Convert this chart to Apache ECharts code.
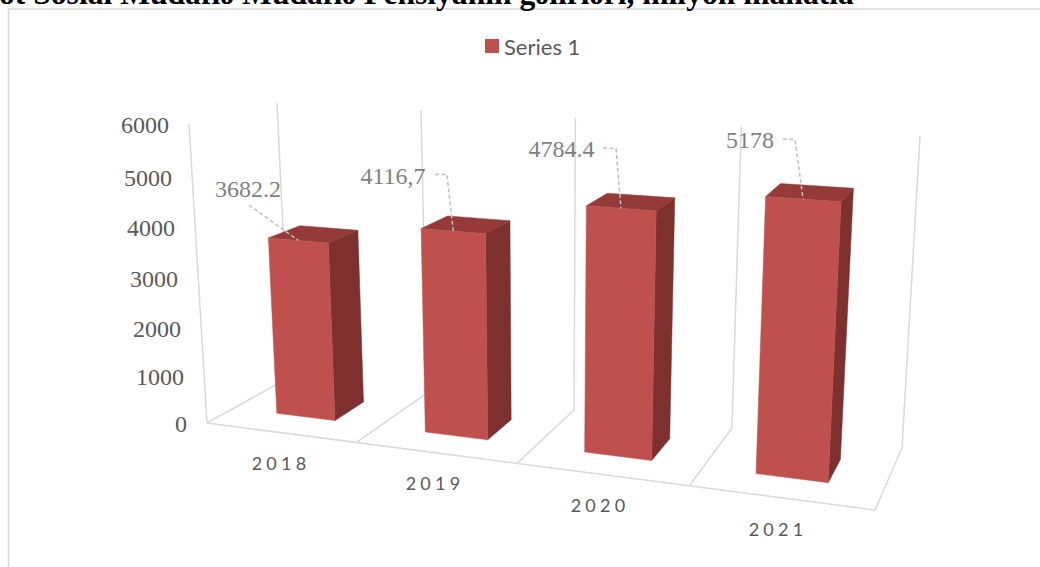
<!DOCTYPE html>
<html><head><meta charset="utf-8">
<style>
html,body{margin:0;padding:0;background:#fff}
#c{width:1040px;height:567px}
#c text[style*="18px Lato"]{letter-spacing:4.2px}
</style>
<script src="https://cdn.jsdelivr.net/npm/echarts@6/dist/echarts.min.js"></script>
</head><body><div id="c"></div>
<script>
var categories=['2018','2019','2020','2021'];
var values=[3682.2,4116.7,4784.4,5178];
var valueLabels=['3682.2','4116,7','4784.4','5178'];
var yTicks=[0,1000,2000,3000,4000,5000,6000];
var seriesName='Series 1';
var titleText='ot Sosial Müdafiə Müdafiə Pensiyanın gəlirləri, milyon manatla';

// --- layout of the projected box (not data) ---
var GRID={left:100,top:100,width:800,height:300};
var groundQ=[[207,423],[875,510],[902,448],[290,377]]; // front-left, front-right, back-right, back-left
var topQ=[[189,124],[893,168],[920,136],[277,103]];
var K=1.07,RU=1.155,RD=1.155;
var BAR={u0:0.30,u1:0.70,d0:0.36,d1:0.74};
var labelLayout=[
 {t:[248,189],line:[[249,205]]},
 {t:[393,176],line:[[435,174.5],[447,174.5]]},
 {t:[561.5,149],line:[[603,148],[616,148.5]]},
 {t:[750,140],line:[[783,139],[795,139.5]]}
];
var yLabelRight=[187,184,181,178,175,172,169];
var yLabelY=[424,377,329,279,228,178,125];
var xLabelPos=[[281,463],[435,483],[600,505],[778,529]];

function bil(q,a,b){
 var x=(1-a)*(1-b)*q[0][0]+a*(1-b)*q[1][0]+a*b*q[2][0]+(1-a)*b*q[3][0];
 var y=(1-a)*(1-b)*q[0][1]+a*(1-b)*q[1][1]+a*b*q[2][1]+(1-a)*b*q[3][1];
 return [x,y];
}
function persp(x,r){return x/(x+r*(1-x));}
// u: 0..1 along category axis, d: 0..1 depth, t: 0..1 value fraction
function proj(u,d,t){
 var a=persp(u,RU),b=persp(d,RD);
 var G=bil(groundQ,a,b),T=bil(topQ,a,b),s=persp(t,K);
 return [G[0]+(T[0]-G[0])*s,G[1]+(T[1]-G[1])*s];
}
function fracs(api,i,v){
 var p=api.coord([i,v]);
 return {u:(p[0]-GRID.left)/GRID.width,t:(GRID.top+GRID.height-p[1])/GRID.height};
}
function poly(pts,fill){return {type:'polygon',shape:{points:pts},style:{fill:fill,stroke:fill,lineWidth:0.5}};}
var LINE='#d9d9d9';
function seg(pts,w,dash,col){return {type:'polyline',shape:{points:pts},style:{fill:null,stroke:col||LINE,lineWidth:w||1.5,lineDash:dash||null}};}

function renderBar(params,api){
 var i=api.value(0),v=api.value(1);
 var f=fracs(api,i,v),band=api.size([1,0])[0]/GRID.width;
 var left=f.u-band/2;
 var u0=left+BAR.u0*band,u1=left+BAR.u1*band,d0=BAR.d0,d1=BAR.d1,t=f.t;
 var a=proj(u0,d0,0),b=proj(u1,d0,0),c=proj(u1,d1,0);
 var A=proj(u0,d0,t),B=proj(u1,d0,t),C=proj(u1,d1,t),D=proj(u0,d1,t);
 return {type:'group',children:[
  poly([b,c,C,B],'#7d302e'),
  poly([A,B,C,D],'#943a38'),
  poly([a,b,B,A],'#c0504d')
 ]};
}
function renderFrame(params,api){
 var ch=[];
 var n=categories.length;
 ch.push(seg([[8.5,567],[8.5,9],[1040,9]],1.5,null,'#d9d9d9'));
 ch.push(seg([proj(0,0,0),proj(0,0,1)]));
 ch.push(seg([proj(0,0,0),proj(1,0,0)]));
 for(var i=0;i<=n;i++){
  var u=i/n;
  ch.push(seg([proj(u,0,0),proj(u,1,0),proj(u,1,1)]));
 }
 yTicks.forEach(function(tv,k){
  ch.push({type:'text',style:{text:String(tv),x:yLabelRight[k],y:yLabelY[k],align:'right',verticalAlign:'middle',font:'24px "Liberation Serif"',fill:'#595959'}});
 });
 categories.forEach(function(c,k){
  ch.push({type:'text',style:{text:c,x:xLabelPos[k][0],y:xLabelPos[k][1],align:'center',verticalAlign:'middle',font:'18px Lato',fill:'#595959'}});
 });
 ch.push({type:'text',style:{text:titleText,x:-1,y:-7,align:'left',verticalAlign:'middle',font:'bold 31.6px "Liberation Serif"',fill:'#000'}});
 return {type:'group',children:ch};
}
function renderLabel(params,api){
 var i=api.value(0),v=api.value(1);
 var f=fracs(api,i,v),band=api.size([1,0])[0]/GRID.width,left=f.u-band/2;
 var u=left+(BAR.u0+BAR.u1)/2*band;
 var anchor=proj(u,BAR.d0,f.t);
 var L=labelLayout[i];
 var pts=L.line.concat([anchor]);
 return {type:'group',children:[
  seg(pts,1.5,[4,2.5],'#bfbfbf'),
  {type:'text',style:{text:valueLabels[i],x:L.t[0],y:L.t[1],align:'center',verticalAlign:'middle',font:'24px "Liberation Serif"',fill:'#7f7f7f'}}
 ]};
}
var chart=echarts.init(document.getElementById('c'),null,{renderer:'svg'});
var data=categories.map(function(c,i){return [i,values[i]];});
chart.setOption({
 animation:false,
 backgroundColor:'#fff',
 legend:{show:true,data:[seriesName],left:480,top:30,icon:'rect',itemWidth:14,itemHeight:14,itemGap:5,
  textStyle:{fontFamily:'Lato',fontSize:22,color:'#595959',padding:[0,0,0,0]}},
 color:['#c0504d'],
 grid:GRID,
 xAxis:{type:'category',data:categories,show:false},
 yAxis:{type:'value',min:0,max:6000,interval:1000,show:false},
 series:[
  {type:'custom',name:'frame',coordinateSystem:'cartesian2d',z:1,data:[[0,0]],renderItem:renderFrame,silent:true},
  {type:'custom',name:seriesName,coordinateSystem:'cartesian2d',z:2,data:data,encode:{x:0,y:1},itemStyle:{color:'#c0504d'},renderItem:renderBar},
  {type:'custom',name:'labels',coordinateSystem:'cartesian2d',z:3,data:data,encode:{x:0,y:1},renderItem:renderLabel,silent:true}
 ]
});
</script></body></html>
